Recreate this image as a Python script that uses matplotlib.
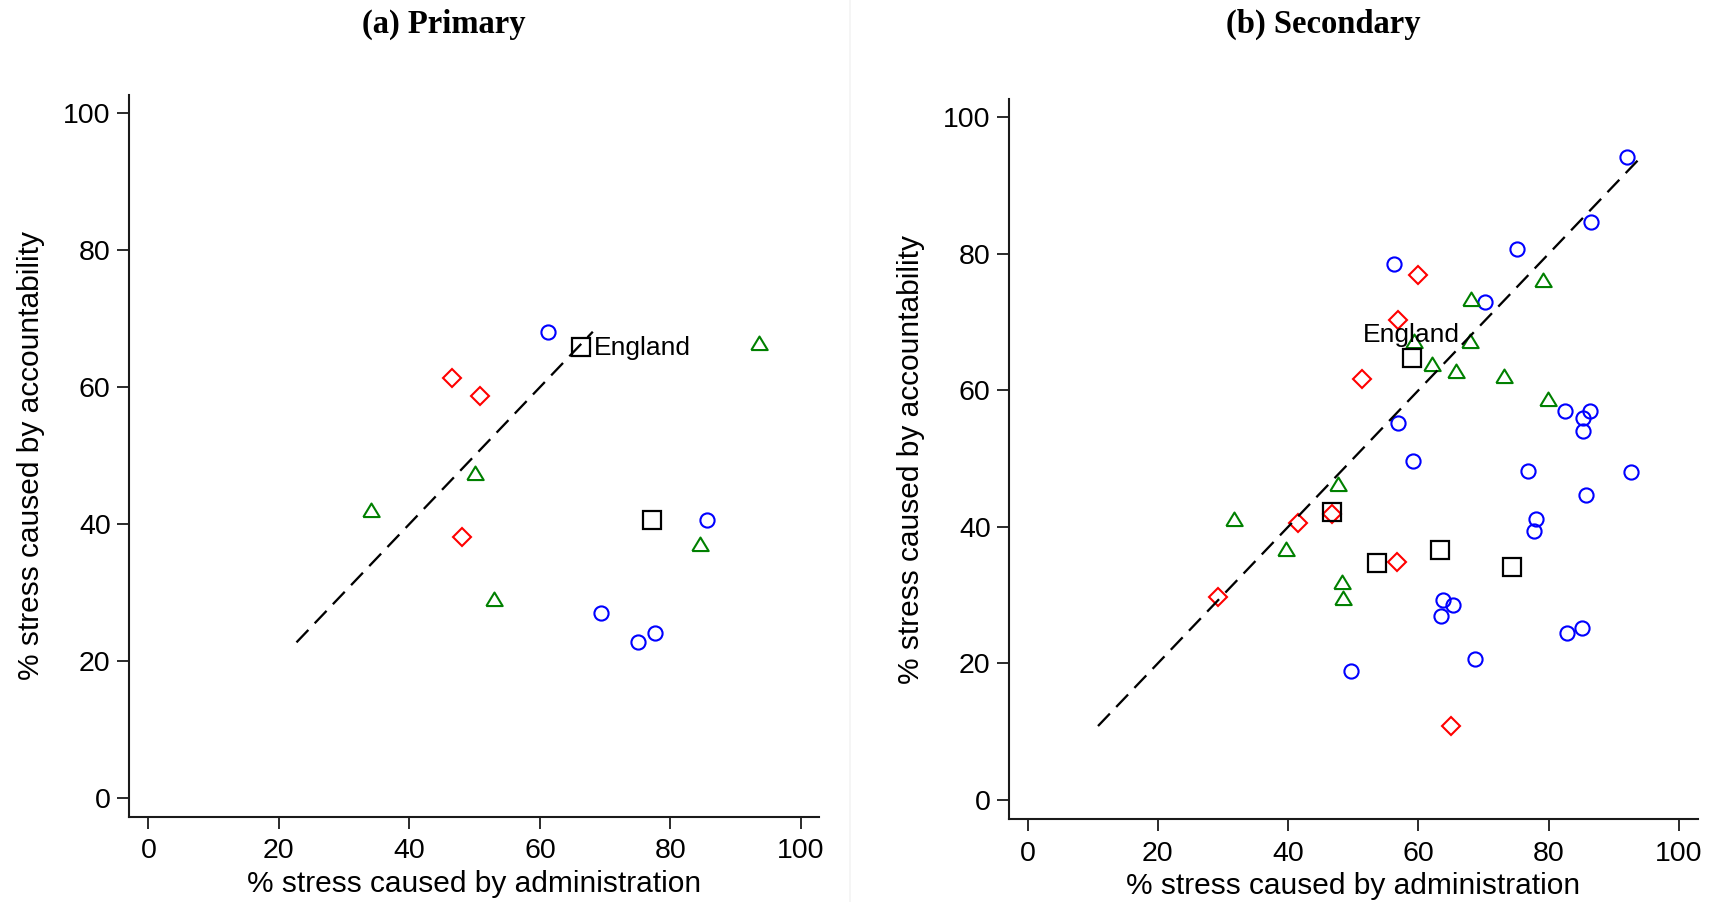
import matplotlib
matplotlib.use("Agg")
import matplotlib.pyplot as plt
from matplotlib.lines import Line2D

# primary schools: % stress from administration (x) vs accountability (y)
pri_circ_adm = [61.3, 85.6, 69.3, 75.0, 77.6]
pri_circ_acc = [68.1, 40.6, 27.0, 22.7, 24.1]
pri_diam_adm = [46.6, 50.8, 48.0]
pri_diam_acc = [61.4, 58.7, 38.1]
pri_tri_adm = [93.6, 50.0, 34.1, 84.5, 53.0]
pri_tri_acc = [66.5, 47.5, 42.1, 37.1, 29.0]
pri_sq_adm = [66.3, 77.2]
pri_sq_acc = [65.9, 40.6]
pri_eng = (66.3, 65.9)

# secondary schools
sec_circ_adm = [92.1, 86.5, 75.2, 56.2, 70.3, 82.5, 86.3, 85.3, 85.3, 56.8, 59.1, 76.9,
                92.6, 85.8, 78.0, 77.7, 63.8, 65.3, 63.4, 82.8, 85.2, 68.7, 49.6]
sec_circ_acc = [94.2, 84.7, 80.7, 78.5, 73.0, 57.0, 57.0, 56.0, 54.0, 55.2, 49.7, 48.2,
                48.0, 44.7, 41.1, 39.4, 29.2, 28.5, 26.9, 24.4, 25.2, 20.6, 18.8]
sec_diam_adm = [60.0, 56.9, 51.4, 41.5, 56.7, 29.2, 65.0, 46.7]
sec_diam_acc = [76.9, 70.3, 61.7, 40.5, 34.8, 29.7, 10.8, 41.9]
sec_tri_adm = [79.2, 68.1, 59.4, 68.0, 62.1, 65.8, 73.1, 79.9, 47.7, 31.7, 39.6, 48.2, 48.5]
sec_tri_acc = [76.2, 73.4, 67.2, 67.3, 63.8, 62.8, 62.1, 58.7, 46.3, 41.1, 36.7, 31.9, 29.6]
sec_sq_adm = [59.0, 46.7, 63.3, 53.6, 74.4]
sec_sq_acc = [64.8, 42.1, 36.6, 34.7, 34.1]
sec_eng = (59.0, 64.8)

ticks = [0, 20, 40, 60, 80, 100]

W, H = 1719, 902
fig = plt.figure(figsize=(W / 100, H / 100), dpi=100)

tri = [(-1, -0.8), (1, -0.8), (0, 0.85), (-1, -0.8)]


def panel(ax, cx, cy, dx, dy, tx, ty, sx, sy, eng, eng_off, eng_ha):
    ax.plot(cx, cy, ls="none", marker="o", ms=10.2, mfc="none", mec="#0000ff", mew=1.5)
    ax.plot(dx, dy, ls="none", marker="D", ms=9.4, mfc="none", mec="#ff0000", mew=1.5)
    ax.plot(tx, ty, ls="none", marker=tri, ms=11.8, mfc="none", mec="#008000", mew=1.5)
    ax.plot(sx, sy, ls="none", marker="s", ms=12.6, mfc="none", mec="black", mew=1.6)

    # 45 degree line across the range of y values
    ally = cy + dy + ty + sy
    lo, hi = min(ally), max(ally)
    ax.plot([lo, hi], [lo, hi], color="black", lw=1.65, dashes=(7.5, 4))

    ax.annotate("England", xy=eng, xytext=eng_off, textcoords="offset points",
                ha=eng_ha, va="baseline", fontsize=19, family="Liberation Sans")

    ax.set_xticks(ticks)
    ax.set_yticks(ticks)
    for s in ["top", "right"]:
        ax.spines[s].set_visible(False)
    for s in ["left", "bottom"]:
        ax.spines[s].set_linewidth(1.5)
        ax.spines[s].set_color("#1a1a1a")
    ax.tick_params(axis="both", direction="out", length=8.5, width=1.3,
                   color="#1a1a1a", labelsize=20.5)
    ax.tick_params(axis="x", pad=6.9)
    ax.tick_params(axis="y", pad=4.7)
    for lab in ax.get_xticklabels() + ax.get_yticklabels():
        lab.set_family("Liberation Sans")

    ax.set_xlabel("% stress caused by administration", fontsize=21.5, family="Liberation Sans")
    ax.set_ylabel("% stress caused by accountability", fontsize=21.5, family="Liberation Sans")
    ax.xaxis.label.set_va("center")
    ax.yaxis.label.set_va("center")


ax1 = fig.add_axes([129 / W, 1 - 816.7 / H, 690.3 / W, 721.7 / H])
panel(ax1, pri_circ_adm, pri_circ_acc, pri_diam_adm, pri_diam_acc,
      pri_tri_adm, pri_tri_acc, pri_sq_adm, pri_sq_acc, pri_eng, (9.5, -6), "left")
ax1.set_xlim(-2.96, 102.8)
ax1.set_ylim(-2.78, 102.7)
ax1.xaxis.set_label_coords(0.5, -0.0935)
ax1.yaxis.set_label_coords(-0.142, 0.5)

ax2 = fig.add_axes([1009 / W, 1 - 819.3 / H, 688.7 / W, 720.3 / H])
panel(ax2, sec_circ_adm, sec_circ_acc, sec_diam_adm, sec_diam_acc,
      sec_tri_adm, sec_tri_acc, sec_sq_adm, sec_sq_acc, sec_eng, (0, 11.2), "center")
ax2.set_xlim(-2.87, 102.9)
ax2.set_ylim(-2.87, 102.7)
ax2.xaxis.set_label_coords(0.5, -0.092)
ax2.yaxis.set_label_coords(-0.1423, 0.5)

fig.text(444 / W, 1 - 24 / H, "(a) Primary", ha="center", va="center",
         fontsize=23.5, fontweight="bold", family="Liberation Serif")
fig.text(1323 / W, 1 - 24 / H, "(b) Secondary", ha="center", va="center",
         fontsize=23.5, fontweight="bold", family="Liberation Serif")

# faint border between the two graphs
fig.add_artist(Line2D([850 / W, 850 / W], [0, 1], color="#f2f2f2", lw=1.1))

fig.savefig("out.png", dpi=100)
